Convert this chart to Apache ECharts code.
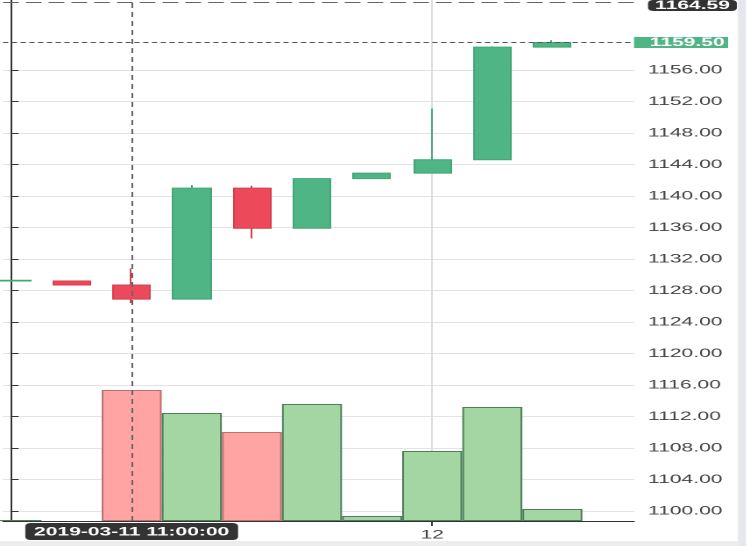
<!DOCTYPE html>
<html>
<head>
<meta charset="utf-8">
<script src="https://cdn.jsdelivr.net/npm/echarts@6/dist/echarts.min.js"></script>
<style>
html,body{margin:0;padding:0;background:#fff;overflow:hidden;width:750px;height:546px;}
#chart{width:428px;height:546px;transform:scaleX(1.75234);transform-origin:0 0;}
</style>
</head>
<body>
<div id="chart"></div>
<script>
// ---- data ----
const times = [
  '2019-03-11 09:00:00','2019-03-11 10:00:00','2019-03-11 11:00:00','2019-03-11 12:00:00',
  '2019-03-11 13:00:00','2019-03-11 14:00:00','2019-03-11 15:00:00','2019-03-12 09:00:00',
  '2019-03-12 10:00:00','2019-03-12 11:00:00'
];
const opens  = [1129.2, 1129.2, 1128.7, 1126.9, 1141.0, 1135.9, 1142.2, 1142.9, 1144.6, 1158.9];
const closes = [1129.3, 1128.7, 1126.9, 1141.0, 1135.9, 1142.2, 1142.9, 1144.6, 1158.9, 1159.5];
const lows   = [1129.2, 1128.7, 1126.4, 1126.9, 1134.6, 1135.9, 1142.2, 1142.9, 1144.6, 1158.9];
const highs  = [1129.3, 1129.2, 1130.8, 1141.4, 1141.3, 1142.2, 1142.9, 1151.1, 1159.0, 1159.8];
const volumes = [0.8, 0, 100.6, 82.9, 68.3, 89.8, 3.8, 53.7, 87.5, 9.2];
const priceTicks = [1100,1104,1108,1112,1116,1120,1124,1128,1132,1136,1140,1144,1148,1152,1156];
const xTickIndex = [7];
const xTickText = ['12'];
const lastPrice = 1159.50;
const crossPrice = 1164.59;
const crossIndex = 2;

// ---- style ----
const F = 750 / 428;            // horizontal stretch of the reference
const px = v => v / F;
const UP = '#4fb584', DOWN = '#ec4a5a';
const UP_B = '#44a677', DOWN_B = '#d63f50';
const VUP = '#a3d6a3', VDOWN = '#ffa3a3';
const VUP_B = '#4d7f5a', VDOWN_B = '#b87070';
const FONT = '"Liberation Sans", Arial, sans-serif';

const chart = echarts.init(document.getElementById('chart'), null, {devicePixelRatio: 2});

const candleData = times.map((t, i) => [i, opens[i], closes[i], lows[i], highs[i]]);
const volumeData = times.map((t, i) => ({
  value: [i, volumes[i] > 0 ? volumes[i] : '-'],
  itemStyle: {
    color: closes[i] >= opens[i] ? VUP : VDOWN,
    borderColor: closes[i] >= opens[i] ? VUP_B : VDOWN_B
  }
}));

chart.setOption({
  animation: false,
  backgroundColor: '#fff',
  textStyle: {fontFamily: FONT},
  grid: {left: px(3), right: px(116), top: 0, bottom: 25},
  xAxis: {
    type: 'value',
    min: -0.141,
    max: 10.358,
    axisLine: {show: true, lineStyle: {color: '#333', width: 1}},
    axisTick: {show: true, customValues: xTickIndex, length: 5, lineStyle: {color: '#333'}},
    axisLabel: {
      show: true, customValues: xTickIndex, margin: 8,
      color: '#444', fontSize: 12, fontFamily: FONT,
      formatter: v => xTickText[xTickIndex.indexOf(Math.round(v))] || ''
    },
    splitLine: {show: true, lineStyle: {color: '#dcdcdc', width: 1}},
    axisPointer: {
      show: true, type: 'line', status: 'show', value: crossIndex, snap: false,
      lineStyle: {color: '#666', width: 1, type: [5, 4]},
      label: {
        show: true, margin: 2, backgroundColor: '#333', color: '#fff',
        fontWeight: 'bold', fontSize: 12, fontFamily: FONT, padding: [3, 5, 2, 5],
        formatter: p => times[Math.round(p.value)]
      }
    }
  },
  yAxis: [{
    type: 'value',
    position: 'right',
    min: 1098.73,
    max: 1164.89,
    scale: true,
    axisLine: {show: true, lineStyle: {color: '#333', width: 1}},
    axisTick: {show: true, customValues: priceTicks, length: 4, lineStyle: {color: '#333'}},
    axisLabel: {
      show: true, customValues: priceTicks, margin: 8,
      color: '#444', fontSize: 12, fontFamily: FONT,
      formatter: v => v.toFixed(2)
    },
    splitLine: {show: true, lineStyle: {color: '#e3e3e3', width: 1}},
    axisPointer: {
      show: true, type: 'line', status: 'show', value: crossPrice, snap: false,
      lineStyle: {color: '#666', width: 1, type: [9, 4]},
      label: {
        show: true, margin: 8, backgroundColor: '#333', color: '#fff',
        fontWeight: 'bold', fontSize: 12, fontFamily: FONT, padding: [0, 4], lineHeight: 11,
        formatter: p => Number(p.value).toFixed(2)
      }
    }
  }, {
    type: 'value',
    min: 0,
    max: 400,
    show: false,
    splitLine: {show: false}
  }],
  series: [{
    type: 'bar',
    name: 'Volume',
    xAxisIndex: 0,
    yAxisIndex: 1,
    barWidth: px(60),
    data: volumeData,
    itemStyle: {borderWidth: 1},
    silent: true
  }, {
    type: 'candlestick',
    name: 'Price',
    xAxisIndex: 0,
    yAxisIndex: 0,
    barWidth: px(38),
    data: candleData,
    itemStyle: {
      color: UP, color0: DOWN,
      borderColor: UP_B, borderColor0: DOWN_B,
      borderWidth: 1
    },
    silent: true,
    markLine: {
      silent: true,
      symbol: ['none', 'none'],
      lineStyle: {color: '#555', type: [3, 2], width: 1},
      label: {
        show: true, position: 'end', distance: 0,
        backgroundColor: UP, color: '#fff', fontWeight: 'bold',
        fontSize: 12, fontFamily: FONT, padding: [0, 2, 0, 9], lineHeight: 11,
        formatter: p => Number(p.value).toFixed(2)
      },
      data: [{yAxis: lastPrice}]
    }
  }],
  graphic: [
    {type: 'rect', left: px(738), top: 0, shape: {width: px(8), height: 546}, style: {fill: '#e6e6ee'}, silent: true},
    {type: 'rect', left: 0, top: 541, shape: {width: px(738), height: 5}, style: {fill: '#ededed'}, silent: true}
  ]
});
</script>
</body>
</html>
